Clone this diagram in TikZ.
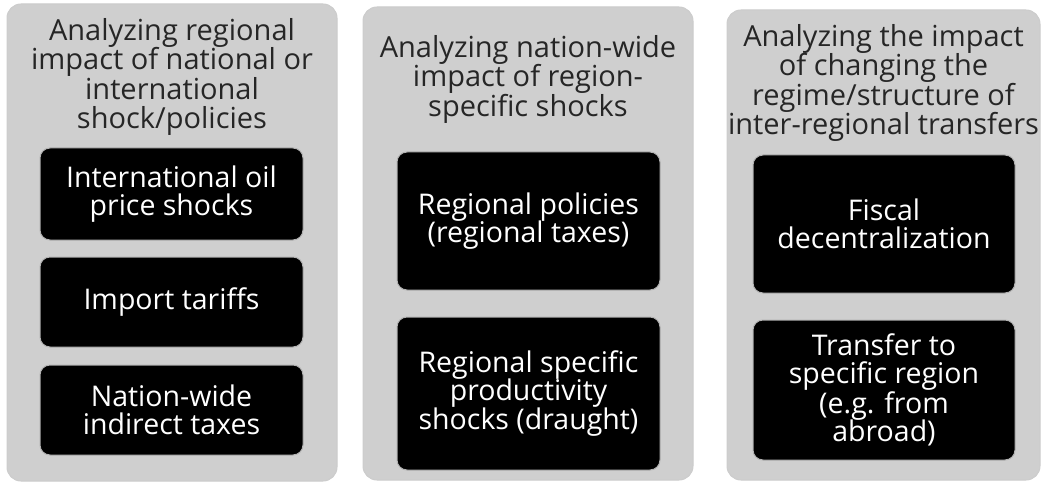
\documentclass[tikz,border=0pt]{standalone}
\usepackage{fontspec}
\setmainfont{Open Sans}
\usepackage{tikz}

\begin{document}
\begin{tikzpicture}[x=1pt,y=-1pt,
        panel/.style={draw=gray!40, fill=gray!38, rounded corners=14pt, line width=1pt,
            inner sep=0pt},
        case/.style={draw=gray!60, fill=black, rounded corners=10pt, line width=1pt,
            text=white, align=center, inner sep=0pt, minimum width=263pt,
            font=\fontsize{28.5}{28.5}\selectfont},
        head/.style={align=center, text=black!85, font=\fontsize{29}{29.5}\selectfont}]
        \useasboundingbox[fill=white] (0,0) rectangle (1047,484);

        % three columns
        \node[panel, minimum width=330pt, minimum height=477pt] (p1) at (172,242.5) {};
        \node[panel, minimum width=330pt, minimum height=473pt] (p2) at (528,243.5) {};
        \node[panel, minimum width=313pt, minimum height=470pt] (p3) at (883.5,245) {};

        \node[head] (h1) at (172,77) {Analyzing regional\\impact of national or\\international\\shock/policies};
        \node[head] (h2) at (528,79) {Analyzing nation-wide\\impact of region-\\specific shocks};
        \node[head] (h3) at (883.5,83) {Analyzing the impact\\of changing the\\regime/structure of\\inter-regional transfers};

        % first column
        \node[case, minimum height=92pt] (a1) at (171.5,194) {International oil\\price shocks};
        \node[case, minimum height=90pt] (a2) at (171.5,302) {Import tariffs};
        \node[case, minimum height=90pt] (a3) at (171.5,410) {Nation-wide\\indirect taxes};

        % second column
        \node[case, minimum height=138pt] (b1) at (528.5,221) {Regional policies\\(regional taxes)};
        \node[case, minimum height=153pt] (b2) at (528.5,393.5) {Regional specific\\productivity\\shocks (draught)};

        % third column
        \node[case, minimum width=262pt, minimum height=138pt] (c1) at (884,224) {Fiscal\\decentralization};
        \node[case, minimum width=262pt, minimum height=140pt] (c2) at (884,390) {Transfer to\\specific region\\(e.g. from\\abroad)};
\end{tikzpicture}
\end{document}
